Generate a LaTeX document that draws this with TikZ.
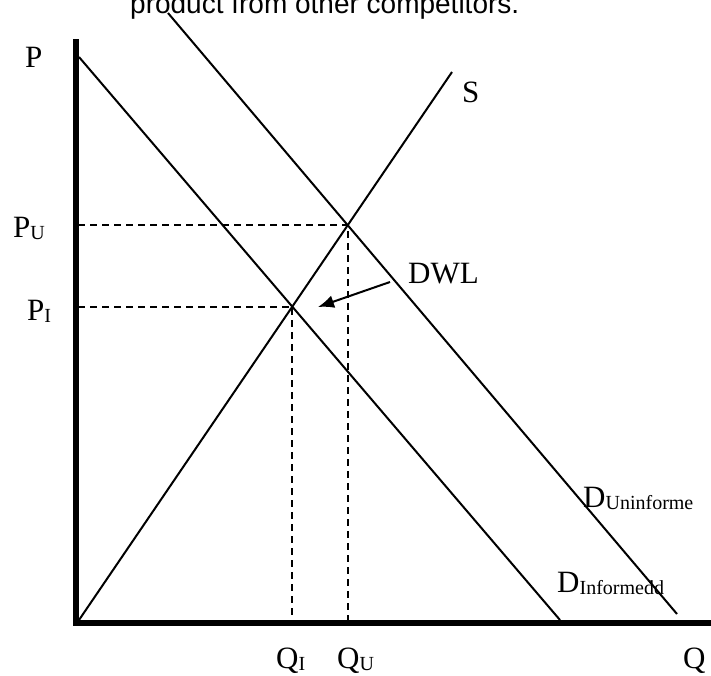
\documentclass[tikz,border=0pt]{standalone}
\usepackage{fontspec}
\setmainfont{Liberation Serif}
\newfontfamily\toptextfont{Liberation Sans}
\usetikzlibrary{arrows.meta}
\newcommand{\subtxt}[1]{\raisebox{-2pt}{\fontsize{20}{20}\selectfont #1}}
\begin{document}
\begin{tikzpicture}[x=1pt,y=-1pt,
  curve/.style={line width=2pt},
  axisline/.style={line width=6pt,line join=miter},
  guide/.style={line width=2pt,dash pattern=on 7pt off 5pt},
  lbl/.style={anchor=base west,inner sep=0pt,font=\fontsize{31}{31}\selectfont},
  toplbl/.style={anchor=base west,inner sep=0pt,font=\toptextfont\fontsize{28}{28}\selectfont}]
\useasboundingbox (0,0) rectangle (711,675);
\clip (0,0) rectangle (711,675);
% top text (partly cut off)
\node[toplbl] (toptext) at (130,13) {product from other competitors.};
% curve end points
\coordinate (dIa) at (79,57);
\coordinate (dIb) at (560,620);
\coordinate (dUa) at (168,13);
\coordinate (dUb) at (677,614);
\coordinate (sa) at (79,620);
\coordinate (sb) at (452,72);
\coordinate (EU) at (intersection of sa--sb and dUa--dUb);
\coordinate (EI) at (intersection of sa--sb and dIa--dIb);
\coordinate (PUax) at (78,0 |- EU);
\coordinate (PIax) at (78,0 |- EI);
\coordinate (QUax) at (EU |- 0,620);
\coordinate (QIax) at (EI |- 0,620);
% curves
\draw[curve] (dIa) -- (dIb);
\draw[curve] (dUa) -- (dUb);
\draw[curve] (sa) -- (sb);
% guides
\draw[guide] (PUax) -- (EU) -- (QUax);
\draw[guide] (PIax) -- (EI) -- (QIax);
% axes
\draw[axisline] (75.5,39) -- (75.5,623) -- (715,623);
% labels
\node[lbl] (P) at (25,67) {P};
\node[lbl] (PU) at (13,237) {P\subtxt{U}};
\node[lbl] (PI) at (27,320) {P\subtxt{I}};
\node[lbl] (S) at (462,102) {S};
\node[lbl] (DWL) at (408,283) {DWL};
\node[lbl] (DU) at (583,507) {D\subtxt{Uninforme}};
\node[lbl] (DI) at (557,592) {D\subtxt{Informedd}};
\node[lbl] (QI) at (276,668) {Q\subtxt{I}};
\node[lbl] (QU) at (337,668) {Q\subtxt{U}};
\node[lbl] (Q) at (683,668) {Q};
% DWL arrow
\coordinate (dwltail) at (390,282);
\coordinate (dwltip) at (318,307);
\draw[curve,-{Latex[length=16pt,width=13pt]}] (dwltail) -- (dwltip);
\end{tikzpicture}
\end{document}
